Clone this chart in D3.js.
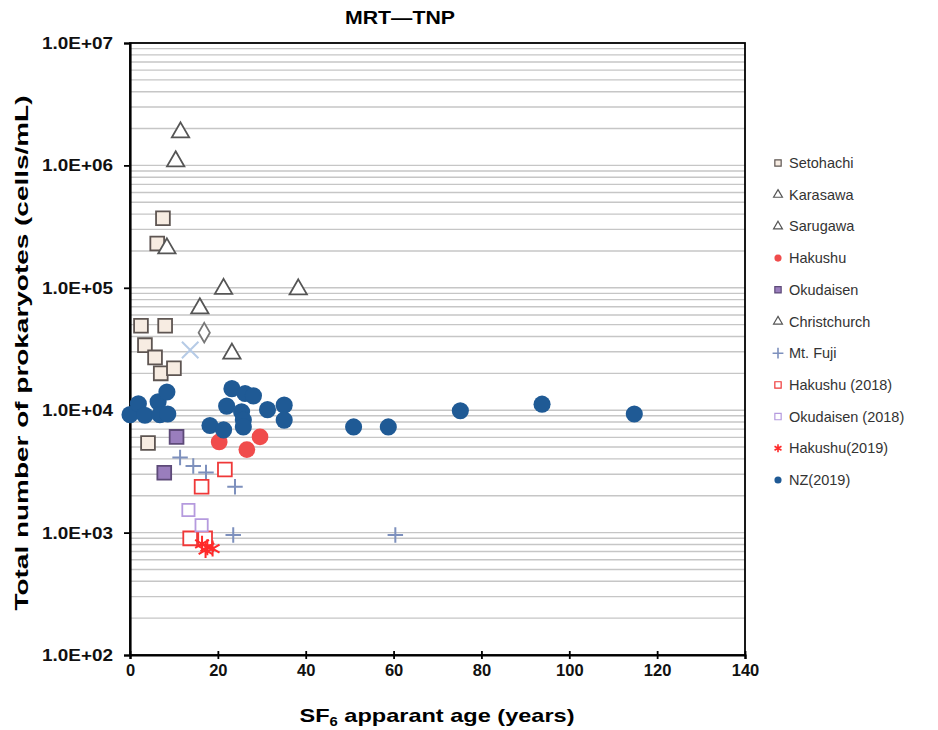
<!DOCTYPE html>
<html>
<head>
<meta charset="utf-8">
<script src="https://cdn.jsdelivr.net/npm/d3@7"></script>
<style>
  body { margin: 0; background: #fff; }
  svg { font-family: "Liberation Sans", Arial, sans-serif; }
</style>
</head>
<body>
<svg width="938" height="730"></svg>
<script>
// values: [age (years), cells/mL]
const setohachi = [[7.5, 3.7e5], [6.2, 2.3e5], [2.5, 4.9e4], [8, 4.9e4], [3.4, 3.4e4], [5.7, 2.7e4], [7, 2.0e4], [10, 2.2e4], [4.1, 5.4e3]];
const karasawa = [[11.5, 1.86e6], [10.4, 1.08e6], [8.4, 2.1e5]];
const sarugawa = [[15.9, 6.8e4], [23.2, 2.9e4]];
const christchurch = [[21.3, 9.8e4], [38.3, 9.7e4]];
const hakushu = [[20.3, 5.5e3], [29.6, 6.05e3], [26.6, 4.77e3]];
const okudaisen = [[10.6, 6.05e3], [7.8, 3.08e3]];
const mtFuji = [[11.4, 4.1e3], [14.4, 3.5e3], [17.3, 3.1e3], [23.9, 2.37e3], [23.5, 955], [60.4, 955]];
const hakushu2018 = [[21.6, 3.28e3], [16.3, 2.37e3], [13.7, 897], [17.1, 897]];
const okudaisen2018 = [[13.3, 1.53e3], [16.3, 1.15e3]];
const hakushu2019 = [[16.4, 810], [17.6, 760], [18.8, 740], [17.2, 720]];
const nz2019 = [[0, 9.2e3], [1.9, 1.13e4], [3.4, 9.1e3], [6.4, 1.17e4], [6.8, 9.2e3], [8.4, 1.41e4], [8.6, 9.3e3],
  [23.2, 1.5e4], [26.2, 1.37e4], [28.1, 1.31e4], [22.0, 1.08e4], [25.4, 9.7e3], [31.3, 1.01e4], [35.1, 1.1e4], [35.1, 8.3e3],
  [25.8, 8.3e3], [18.2, 7.5e3], [21.3, 6.9e3], [25.8, 7.3e3], [50.9, 7.3e3], [58.8, 7.3e3], [75.2, 9.9e3], [93.8, 1.12e4], [114.8, 9.3e3]];
const otherDiamond = [[16.9, 4.3e4]];
const otherCross = [[13.7, 3.1e4]];

const xTicks = [0, 20, 40, 60, 80, 100, 120, 140];
const yTicks = [1e2, 1e3, 1e4, 1e5, 1e6, 1e7];

const series = [
  { name: "Setohachi", data: setohachi, shape: d3.symbolSquare, size: 190, fill: "#f7ece2", stroke: "#5e5552", lsize: 40 },
  { name: "Karasawa", data: karasawa, shape: d3.symbolTriangle, size: 130, fill: "#fff", stroke: "#555", lsize: 34 },
  { name: "Sarugawa", data: sarugawa, shape: d3.symbolTriangle, size: 130, fill: "#fff", stroke: "#555", lsize: 34 },
  { name: "Hakushu", data: hakushu, shape: d3.symbolCircle, size: 220, fill: "#f04c4c", stroke: "none", lsize: 40 },
  { name: "Okudaisen", data: okudaisen, shape: d3.symbolSquare, size: 190, fill: "#9a7ebd", stroke: "#5d4a78", lsize: 40 },
  { name: "Christchurch", data: christchurch, shape: d3.symbolTriangle, size: 130, fill: "#fff", stroke: "#555", lsize: 34 },
  { name: "Mt. Fuji", data: mtFuji, shape: d3.symbolPlus, size: 80, fill: "none", stroke: "#7d90bd", lsize: 40, line: true },
  { name: "Hakushu (2018)", data: hakushu2018, shape: d3.symbolSquare, size: 190, fill: "#fff", stroke: "#ef3838", lsize: 40 },
  { name: "Okudaisen (2018)", data: okudaisen2018, shape: d3.symbolSquare, size: 150, fill: "#fff", stroke: "#b59ade", lsize: 40 },
  { name: "Hakushu(2019)", data: hakushu2019, shape: d3.symbolAsterisk, size: 180, fill: "none", stroke: "#ff2a2a", lsize: 45, line: true },
  { name: "NZ(2019)", data: nz2019, shape: d3.symbolCircle, size: 230, fill: "#1f5a95", stroke: "none", lsize: 40 },
  { name: null, data: otherDiamond, shape: d3.symbolDiamond, size: 110, fill: "#fff", stroke: "#777" },
  { name: null, data: otherCross, shape: d3.symbolTimes, size: 180, fill: "none", stroke: "#b6cbe6", line: true }
];

const svg = d3.select("svg");
const x = d3.scaleLinear().domain([0, 140]).range([130, 745]);
const y = d3.scaleLog().domain([1e2, 1e7]).range([655, 43]);

// minor gridlines
let grid = [];
for (let e = 2; e < 7; e++) {
  for (let m = 1; m < 10; m++) grid.push(m * Math.pow(10, e));
}
svg.append("g").selectAll("line").data(grid.filter(d => d > 1e2)).join("line")
  .attr("x1", x(0)).attr("x2", x(140))
  .attr("y1", d => y(d)).attr("y2", d => y(d))
  .attr("stroke", "#c6c6c6").attr("stroke-width", 1.4);

// frame
svg.append("rect").attr("x", x(0)).attr("y", y(1e7))
  .attr("width", x(140) - x(0)).attr("height", y(1e2) - y(1e7))
  .attr("fill", "none").attr("stroke", "#000").attr("stroke-width", 1.8);

// axes
const xAxis = svg.append("g").attr("transform", "translate(0," + y(1e2) + ")")
  .call(d3.axisBottom(x).tickValues(xTicks).tickSize(4).tickPadding(5));
xAxis.selectAll(".tick line").attr("y1", -4).attr("stroke-width", 1.8);
xAxis.selectAll(".tick text").attr("font-size", 17).attr("textLength", function() { return this.textContent.length * 9.2; })
  .attr("lengthAdjust", "spacingAndGlyphs");
const yAxis = svg.append("g").attr("transform", "translate(" + x(0) + ",0)")
  .call(d3.axisLeft(y).tickValues(yTicks).tickSize(6).tickPadding(11)
    .tickFormat(d => "1.0E+0" + Math.round(Math.log10(d))));
yAxis.selectAll(".tick line").attr("stroke-width", 1.8);
yAxis.selectAll(".tick text").attr("font-size", 17).attr("textLength", 71).attr("lengthAdjust", "spacingAndGlyphs");
svg.selectAll(".domain").attr("stroke", "#000").attr("stroke-width", 2.2);
svg.selectAll(".tick text").attr("font-weight", "bold")
  .attr("font-family", "Liberation Sans, Arial, sans-serif").attr("fill", "#111");

// points
series.forEach(s => {
  svg.append("g").selectAll("path").data(s.data).join("path")
    .attr("transform", d => "translate(" + x(d[0]) + "," + y(d[1]) + ")")
    .attr("d", d3.symbol().type(s.shape).size(s.size))
    .attr("fill", s.fill).attr("stroke", s.stroke)
    .attr("stroke-width", s.line ? 2 : 1.8);
});

// legend
const legend = svg.append("g");
series.filter(s => s.name).forEach((s, i) => {
  const ly = 163 + i * 31.7;
  legend.append("path")
    .attr("transform", "translate(778," + ly + ")")
    .attr("d", d3.symbol().type(s.shape).size(s.lsize))
    .attr("fill", s.fill).attr("stroke", s.stroke)
    .attr("stroke-width", s.line ? 1.6 : 1.2);
  legend.append("text").attr("x", 789).attr("y", ly + 5)
    .attr("font-size", 14.5).attr("fill", "#333").text(s.name);
});

// title and labels
svg.append("text").attr("x", 400).attr("y", 24).attr("text-anchor", "middle")
  .attr("font-size", 18).attr("font-weight", "bold")
  .attr("textLength", 110).attr("lengthAdjust", "spacingAndGlyphs").text("MRT—TNP");
svg.append("text").attr("transform", "translate(28,353) rotate(-90)").attr("text-anchor", "middle")
  .attr("font-size", 19).attr("font-weight", "bold")
  .attr("textLength", 515).attr("lengthAdjust", "spacingAndGlyphs")
  .text("Total number of prokaryotes (cells/mL)");
const xl = svg.append("text").attr("x", 437).attr("y", 722).attr("text-anchor", "middle")
  .attr("font-size", 19).attr("font-weight", "bold")
  .attr("textLength", 275).attr("lengthAdjust", "spacingAndGlyphs");
xl.append("tspan").text("SF");
xl.append("tspan").attr("font-size", 12).attr("dy", 4).text("6");
xl.append("tspan").attr("dy", -4).text(" apparant age (years)");
</script>
</body>
</html>
